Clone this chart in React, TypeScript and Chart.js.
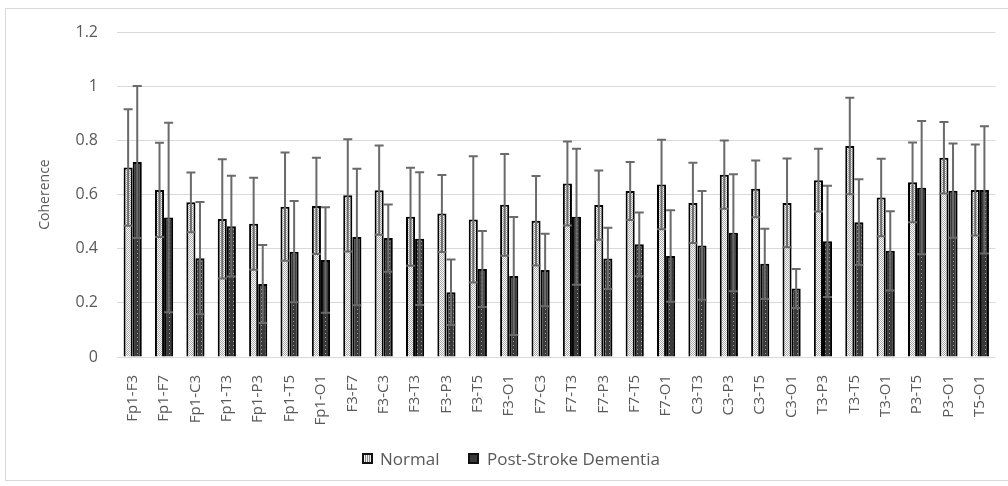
import React, { useEffect, useRef } from "react";
import { Chart, registerables } from "chart.js";

Chart.register(...registerables);

const categories = [
  "Fp1-F3", "Fp1-F7", "Fp1-C3", "Fp1-T3", "Fp1-P3", "Fp1-T5", "Fp1-O1",
  "F3-F7", "F3-C3", "F3-T3", "F3-P3", "F3-T5", "F3-O1", "F7-C3",
  "F7-T3", "F7-P3", "F7-T5", "F7-O1", "C3-T3", "C3-P3", "C3-T5",
  "C3-O1", "T3-P3", "T3-T5", "T3-O1", "P3-T5", "P3-O1", "T5-O1",
];

const normalMean = [
  0.70, 0.617, 0.571, 0.51, 0.492, 0.555, 0.558,
  0.597, 0.616, 0.518, 0.53, 0.508, 0.562, 0.503,
  0.641, 0.561, 0.613, 0.637, 0.569, 0.673, 0.621,
  0.569, 0.653, 0.779, 0.589, 0.645, 0.736, 0.617,
];
const normalSD = [
  0.215, 0.174, 0.11, 0.22, 0.17, 0.2, 0.178,
  0.207, 0.165, 0.181, 0.142, 0.233, 0.188, 0.165,
  0.155, 0.128, 0.107, 0.165, 0.148, 0.126, 0.105,
  0.164, 0.116, 0.178, 0.143, 0.147, 0.132, 0.168,
];
const psdMean = [
  0.72, 0.515, 0.365, 0.483, 0.27, 0.389, 0.358,
  0.443, 0.439, 0.437, 0.239, 0.325, 0.299, 0.321,
  0.518, 0.364, 0.416, 0.373, 0.412, 0.459, 0.344,
  0.253, 0.427, 0.498, 0.392, 0.625, 0.614, 0.617,
];
const psdSD = [
  0.281, 0.35, 0.207, 0.186, 0.144, 0.187, 0.195,
  0.252, 0.124, 0.245, 0.121, 0.14, 0.218, 0.134,
  0.251, 0.113, 0.118, 0.169, 0.201, 0.216, 0.13,
  0.072, 0.205, 0.158, 0.146, 0.246, 0.174, 0.235,
];

const seriesNames = ["Normal", "Post-Stroke Dementia"];
const yMin = 0;
const yMax = 1.2;
const yStep = 0.2;

function makePattern(ctx: CanvasRenderingContext2D, bg: string, dot: string, size: number, dots: [number, number][]) {
  const c = document.createElement("canvas");
  c.width = size;
  c.height = size;
  const g = c.getContext("2d")!;
  g.fillStyle = bg;
  g.fillRect(0, 0, size, size);
  g.fillStyle = dot;
  dots.forEach(([x, y]) => g.fillRect(x, y, 1, 1));
  return ctx.createPattern(c, "repeat")!;
}

const errorBarPlugin = {
  id: "errorBars",
  afterDatasetsDraw(chart: any) {
    const ctx = chart.ctx;
    const yScale = chart.scales.y;
    const sds = [normalSD, psdSD];
    const means = [normalMean, psdMean];
    ctx.save();
    chart.data.datasets.forEach((_ds: any, di: number) => {
      const meta = chart.getDatasetMeta(di);
      meta.data.forEach((bar: any, i: number) => {
        const x = bar.x;
        const top = yScale.getPixelForValue(means[di][i] + sds[di][i]);
        const bot = yScale.getPixelForValue(means[di][i] - sds[di][i]);
        ctx.strokeStyle = "#6a6a6a";
        ctx.lineWidth = 2;
        ctx.beginPath();
        ctx.moveTo(x, top);
        ctx.lineTo(x, bot);
        ctx.moveTo(x - 4.5, top);
        ctx.lineTo(x + 4.5, top);
        ctx.moveTo(x - 4.5, bot);
        ctx.lineTo(x + 4.5, bot);
        ctx.stroke();
      });
    });
    ctx.restore();
  },
};

const legendText: React.CSSProperties = {
  position: "absolute",
  top: 448,
  fontFamily: "'Open Sans', sans-serif",
  fontSize: 17,
  lineHeight: "22px",
  color: "#595959",
  whiteSpace: "nowrap",
};

export default function App() {
  const ref = useRef<HTMLCanvasElement>(null);

  useEffect(() => {
    const canvas = ref.current!;
    const ctx = canvas.getContext("2d")!;
    const normalPattern = makePattern(ctx, "#ffffff", "#a8a8a8", 2, [[0, 0], [1, 1]]);
    const psdPattern = makePattern(ctx, "#3a3a3a", "#9a9a9a", 4, [[1, 1]]);
    const family = "'Open Sans', sans-serif";

    const chart = new Chart(canvas, {
      type: "bar",
      data: {
        labels: categories,
        datasets: [
          {
            label: seriesNames[0],
            data: normalMean,
            backgroundColor: normalPattern,
            borderColor: "#000000",
            borderWidth: 2,
            categoryPercentage: 0.58,
            barPercentage: 1,
          },
          {
            label: seriesNames[1],
            data: psdMean,
            backgroundColor: psdPattern,
            borderColor: "#000000",
            borderWidth: 2,
            categoryPercentage: 0.58,
            barPercentage: 1,
          },
        ],
      },
      options: {
        responsive: false,
        animation: false,
        devicePixelRatio: 1,
        layout: { padding: { top: 32, right: 8, bottom: 0, left: 0 } },
        plugins: {
          legend: { display: false },
          tooltip: { enabled: false },
        },
        scales: {
          x: {
            grid: { display: false },
            border: { display: false },
            ticks: {
              color: "#595959",
              font: { family, size: 15 },
              minRotation: 90,
              maxRotation: 90,
              autoSkip: false,
              padding: 10,
            },
            afterFit: (s: any) => {
              s.height = 129;
            },
          },
          y: {
            min: yMin,
            max: yMax,
            ticks: {
              stepSize: yStep,
              color: "#595959",
              font: { family, size: 16 },
              padding: 19,
              callback: (v: any) => String(Math.round(Number(v) * 10) / 10),
            },
            grid: { color: "#d9d9d9", lineWidth: 1, drawTicks: false },
            border: { display: false },
            title: {
              display: true,
              text: "Coherence",
              color: "#595959",
              font: { family, size: 14 },
              padding: { top: 37, bottom: 0 },
            },
            afterFit: (s: any) => {
              s.width = 117;
            },
          },
        },
      },
      plugins: [errorBarPlugin],
    });
    return () => chart.destroy();
  }, []);

  return (
    <div style={{ position: "fixed", left: 0, top: 0, width: 1008, height: 486, background: "#ffffff" }}>
      <div
        style={{
          position: "absolute",
          left: 5,
          top: 8,
          width: 1010,
          height: 471,
          border: "1px solid #d9d9d9",
        }}
      />
      <canvas ref={ref} width={1008} height={486} style={{ position: "absolute", left: 0, top: 0 }} />
      <div
        style={{
          position: "absolute",
          left: 362,
          top: 453,
          width: 7,
          height: 7,
          border: "2px solid #111",
          background: "repeating-linear-gradient(90deg, #eeeeee 0px, #eeeeee 1px, #8a8a8a 1px, #8a8a8a 2px)",
        }}
      />
      <div style={{ ...legendText, left: 380 }}>{seriesNames[0]}</div>
      <div
        style={{
          position: "absolute",
          left: 468,
          top: 453,
          width: 7,
          height: 7,
          border: "2px solid #111",
          background: "#3a3a3a",
        }}
      />
      <div style={{ ...legendText, left: 487 }}>{seriesNames[1]}</div>
    </div>
  );
}
